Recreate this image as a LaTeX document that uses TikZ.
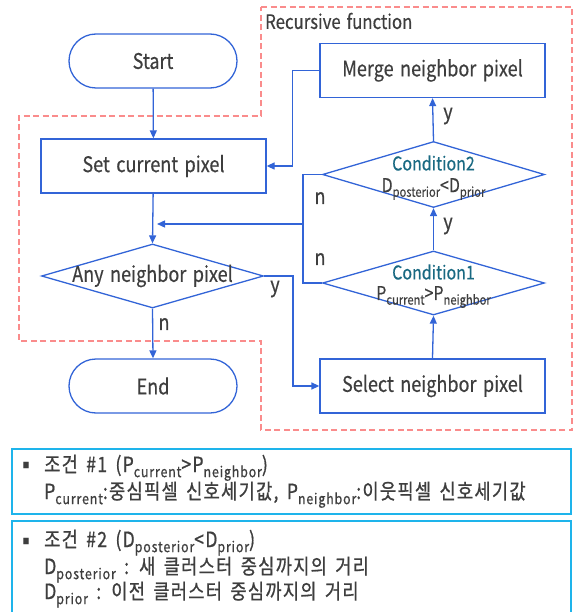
\documentclass[tikz,border=0pt]{standalone}
\usepackage{fontspec}
\setmainfont{Noto Sans CJK KR}[FakeStretch=0.84,WordSpace=1.6,FakeBold=0.4]
\newfontfamily\legfont{Noto Sans CJK KR}[FakeStretch=0.84,WordSpace=1.6,LetterSpace=6,FakeBold=0.8]
\usetikzlibrary{shapes.geometric,arrows.meta}
\definecolor{flowblue}{RGB}{50,100,215}
\definecolor{txtgray}{RGB}{62,62,62}
\definecolor{condteal}{RGB}{25,105,130}
\definecolor{dashred}{RGB}{250,140,140}
\definecolor{legblue}{RGB}{30,180,235}
\makeatletter
\newcommand\sbs[1]{\raisebox{-0.45ex}{\fontsize{\fpeval{0.7*\f@size}}{\fpeval{0.7*\f@size}}\selectfont #1}}
\makeatother
\tikzset{
  flow/.style={draw=flowblue, line width=1.3pt, text=txtgray, inner sep=0pt, font=\fontsize{21.5}{21.5}\selectfont},
  term/.style={flow, rounded corners=27pt, minimum width=168pt, minimum height=54pt},
  proc/.style={flow, minimum width=225pt, minimum height=54pt},
  dec/.style={flow, diamond, minimum width=222pt},
  conn/.style={draw=flowblue, line width=1.3pt, -{Triangle[length=8pt,width=7pt]}},
  plain/.style={draw=flowblue, line width=1.3pt},
  lbl/.style={text=txtgray, inner sep=0pt, font=\fontsize{21.5}{21.5}\selectfont},
  ctxt/.style={inner sep=0pt, font=\fontsize{19}{19}\selectfont},
  legbox/.style={draw=legblue, line width=1.4pt},
  legtxt/.style={text=txtgray, inner sep=0pt, anchor=base west, font=\legfont\fontsize{21}{21}\selectfont}
}
\begin{document}
\begin{tikzpicture}[x=1pt,y=-1pt]
\useasboundingbox (0,0) rectangle (577,612);
% recursive region
\draw[dashred, line width=1.8pt, dash pattern=on 6pt off 3.5pt]
  (261,7) -- (572,7) -- (572,430) -- (261,430) -- (261,341) -- (19,341) -- (19,116) -- (261,116) -- cycle;
\node[lbl, anchor=west, font=\fontsize{20}{20}\selectfont] (rf) at (265,21) {Recursive function};
% nodes
\node[term] (start) at (153,61) {Start};
\node[proc] (set) at (153.5,166) {Set current pixel};
\node[dec, minimum height=64pt] (any) at (152.5,276) {};
\node[lbl] (anyt) at (any) {Any neighbor pixel};
\node[term] (end) at (153,386) {End};
\node[proc] (merge) at (432.5,70.5) {Merge neighbor pixel};
\node[dec, minimum height=66pt] (c2) at (433.5,174.5) {};
\node[ctxt, text=condteal] (c2a) at (433.5,163) {Condition2};
\node[ctxt, text=txtgray] (c2b) at (433.5,189) {D\sbs{posterior}<D\sbs{prior}};
\node[dec, minimum height=64pt] (c1) at (433.5,283) {};
\node[ctxt, text=condteal] (c1a) at (433.5,272) {Condition1};
\node[ctxt, text=txtgray] (c1b) at (433.5,297) {P\sbs{current}>P\sbs{neighbor}};
\node[proc] (sel) at (432.5,386) {Select neighbor pixel};
% connectors
\draw[conn] (start) -- (set);
\draw[conn] (set) -- (any.north);
\draw[conn] (merge.west) -- ++(-27,0) |- (set.east);
\coordinate (j) at (303,224);
\coordinate (jt) at (157,224);
\draw[plain] (c2.west) -| (j);
\draw[plain] (c1.west) -| (j);
\draw[conn] (j) -- (jt);
\draw[conn] (c1.north) -- (c2.south);
\draw[conn] (c2.north) -- (merge.south);
\draw[conn] (sel.north) -- (c1.south);
\draw[conn] (any.east) -- (293,276) |- (sel.west);
\draw[conn] (any.south) -- (end.north);
% labels
\node[lbl] (y1) at (448,116) {y};
\node[lbl] (y2) at (448,226) {y};
\node[lbl] (n1) at (320,198) {n};
\node[lbl] (n2) at (320,259) {n};
\node[lbl] (y3) at (275,289) {y};
\node[lbl] (n3) at (164,324) {n};
% legend
\draw[legbox] (12,449) rectangle (571,514);
\draw[legbox] (12,521) rectangle (571,616);
\node[text=txtgray, inner sep=0pt, font=\fontsize{8}{8}\selectfont] (b1) at (26,465) {■};
\node[legtxt] (l1) at (44,472) {조건 \#1 (P\sbs{current}>P\sbs{neighbor})};
\node[legtxt] (l2) at (44,499) {P\sbs{current}:중심픽셀 신호세기값, P\sbs{neighbor}:이웃픽셀 신호세기값};
\node[text=txtgray, inner sep=0pt, font=\fontsize{8}{8}\selectfont] (b2) at (26,541) {■};
\node[legtxt] (l3) at (44,547) {조건 \#2 (D\sbs{posterior}<D\sbs{prior})};
\node[legtxt] (l4) at (44,574) {D\sbs{posterior} : 새 클러스터 중심까지의 거리};
\node[legtxt] (l5) at (44,599) {D\sbs{prior} : 이전 클러스터 중심까지의 거리};
\end{tikzpicture}
\end{document}
